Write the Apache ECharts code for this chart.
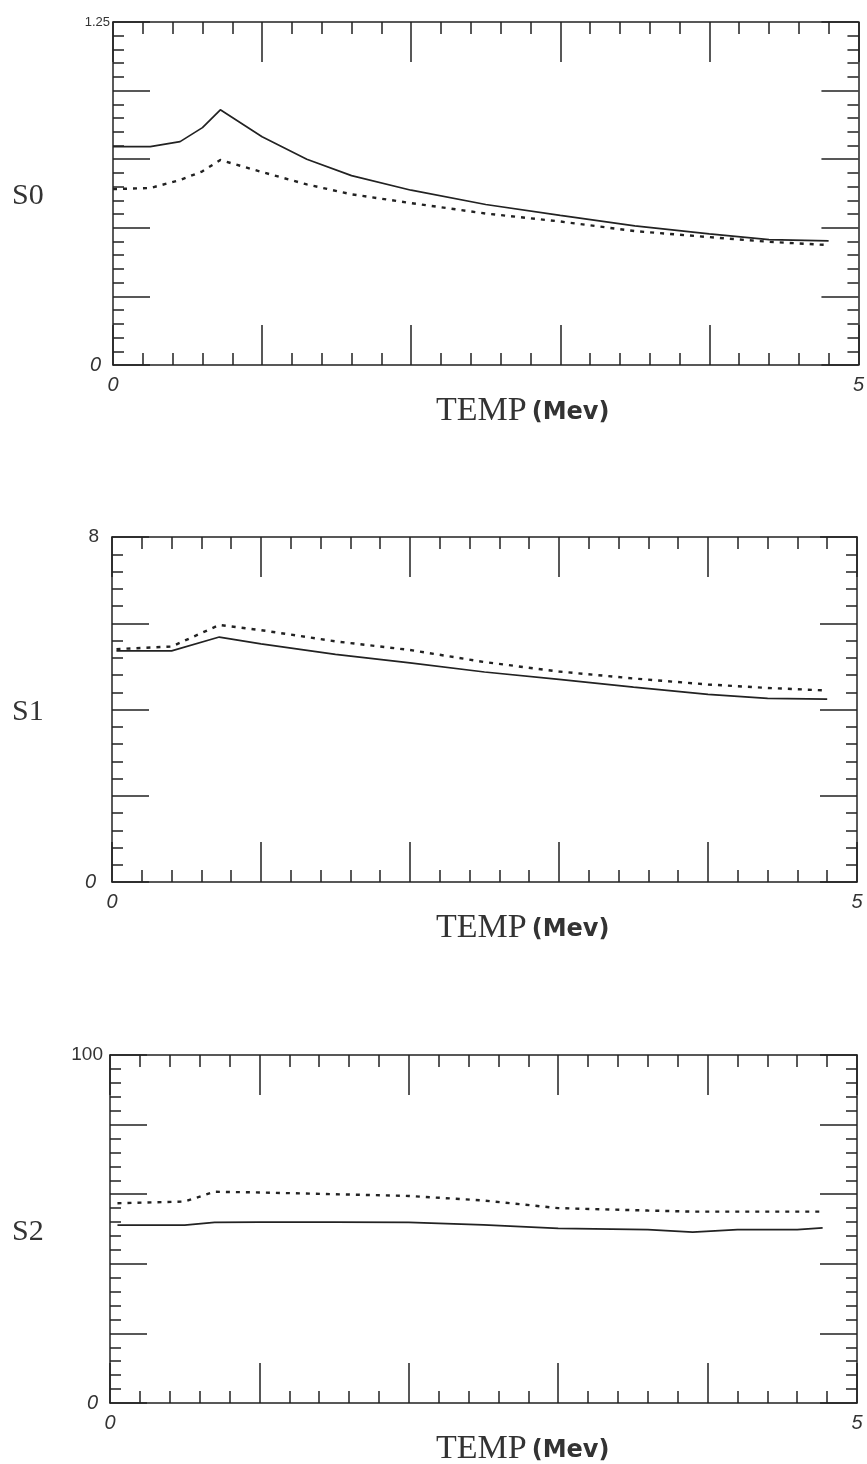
<!DOCTYPE html>
<html>
<head>
<meta charset="utf-8">
<script src="https://cdn.jsdelivr.net/npm/echarts@6/dist/echarts.min.js"></script>
<style>
  html, body { margin: 0; padding: 0; background: #fff; }
  #chart { width: 867px; height: 1464px; }
</style>
</head>
<body>
<div id="chart"></div>
<script>
// ---- data: temperature grid (MeV) and the two curves of each panel ----
const s0Temp   = [0, 0.25, 0.45, 0.6, 0.72, 1.0, 1.3, 1.6, 2.0, 2.5, 3.0, 3.5, 4.0, 4.4, 4.8];
const s0Solid  = [0.796, 0.796, 0.814, 0.865, 0.930, 0.832, 0.750, 0.690, 0.637, 0.585, 0.545, 0.507, 0.478, 0.457, 0.452];
const s0Dotted = [0.641, 0.645, 0.674, 0.706, 0.747, 0.703, 0.658, 0.622, 0.590, 0.552, 0.523, 0.488, 0.466, 0.449, 0.437];

const s1Temp   = [0.03, 0.4, 0.72, 1.0, 1.5, 2.0, 2.5, 3.0, 3.5, 4.0, 4.4, 4.8];
const s1Solid  = [5.36, 5.36, 5.68, 5.52, 5.28, 5.08, 4.87, 4.70, 4.52, 4.35, 4.26, 4.24];
const s1Dotted = [5.40, 5.46, 5.96, 5.84, 5.58, 5.38, 5.10, 4.88, 4.72, 4.58, 4.50, 4.44];

const s2Temp   = [0.05, 0.5, 0.7, 1.0, 1.5, 2.0, 2.5, 3.0, 3.6, 3.9, 4.2, 4.6, 4.77];
const s2Solid  = [51.1, 51.1, 51.9, 52.0, 52.0, 51.9, 51.2, 50.2, 49.8, 49.1, 49.8, 49.8, 50.3];
const s2Dotted = [57.4, 57.9, 60.7, 60.5, 60.0, 59.5, 58.2, 56.0, 55.3, 55.0, 55.0, 55.0, 55.0];

// axis ranges and tick labels
const xMin = 0, xMax = 5, xStep = 1;
const yMax = [1.25, 8, 100];
const yStep = [0.25, 2, 20];
const yTopLabel = ['1.25', '8', '100'];
const yNames = ['S0', 'S1', 'S2'];

const ink = '#222';
const grids = [
  { left: 113, top: 22,   width: 747, height: 343 },
  { left: 112, top: 537,  width: 745, height: 345 },
  { left: 110, top: 1055, width: 747, height: 348 }
];
// per-panel label placement
const labelMargin = [3, 6, 7];
const zeroPad = [9, 10, 5];
const topPad = [0, 7, 0];
const topSize = [13, 19, 19];

const tickStyle = { color: ink, width: 1.5 };
const xAxes = [], yAxes = [], series = [], graphics = [];

function pairs(xs, ys) { return xs.map((x, i) => [x, ys[i]]); }

grids.forEach((g, gi) => {
  // bottom (labelled) and top (mirror) temperature axes
  ['bottom', 'top'].forEach(pos => {
    xAxes.push({
      type: 'value', gridIndex: gi, position: pos,
      min: xMin, max: xMax, interval: xStep,
      axisLine: { show: true, onZero: false, lineStyle: { color: ink, width: 1.5 } },
      axisTick: { show: true, inside: true, length: 40, lineStyle: tickStyle },
      minorTick: { show: true, splitNumber: 5, length: 12, lineStyle: tickStyle },
      splitLine: { show: false },
      axisLabel: pos === 'bottom' ? {
        show: true, margin: 10, hideOverlap: false,
        formatter: v => (v === xMin || v === xMax) ? String(v) : '',
        fontFamily: 'Liberation Sans', fontStyle: 'italic', fontSize: 20, color: '#333'
      } : { show: false }
    });
  });
  // left (labelled) and right (mirror) value axes
  ['left', 'right'].forEach(pos => {
    yAxes.push({
      type: 'value', gridIndex: gi, position: pos,
      min: 0, max: yMax[gi], interval: yStep[gi],
      axisLine: { show: true, onZero: false, lineStyle: { color: ink, width: 1.5 } },
      axisTick: { show: true, inside: true, length: 37, lineStyle: tickStyle },
      minorTick: { show: true, splitNumber: 5, length: 11, lineStyle: tickStyle },
      splitLine: { show: false },
      axisLabel: pos === 'left' ? {
        show: true, margin: labelMargin[gi], hideOverlap: false,
        formatter: v => v === 0 ? '{z|0}' : (Math.abs(v - yMax[gi]) < 1e-9 ? '{t|' + yTopLabel[gi] + '}' : ''),
        rich: {
          z: { fontFamily: 'Liberation Sans', fontStyle: 'italic', fontSize: 20, color: '#333', padding: [0, zeroPad[gi], 0, 0] },
          t: { fontFamily: 'Liberation Sans', fontSize: topSize[gi], color: '#333', padding: [0, topPad[gi], 0, 0] }
        }
      } : { show: false }
    });
  });

  const xi = gi * 2, yi = gi * 2;
  const temps = [s0Temp, s1Temp, s2Temp][gi];
  const solid = [s0Solid, s1Solid, s2Solid][gi];
  const dotted = [s0Dotted, s1Dotted, s2Dotted][gi];
  series.push({
    type: 'line', xAxisIndex: xi, yAxisIndex: yi, data: pairs(temps, solid),
    showSymbol: false, silent: true,
    lineStyle: { color: ink, width: 1.7 }
  });
  series.push({
    type: 'line', xAxisIndex: xi, yAxisIndex: yi, data: pairs(temps, dotted),
    showSymbol: false, silent: true,
    lineStyle: { color: ink, width: 2.4, type: [4, 6] }
  });

  // axis titles
  graphics.push({
    type: 'text', left: 12, top: g.top + g.height / 2 - 12,
    style: { text: yNames[gi], font: '30px "Liberation Serif"', fill: '#333' }
  });
  graphics.push({
    type: 'text', left: 436, top: g.top + g.height + 29,
    style: {
      text: '{a|TEMP}{b|(Mev)}',
      rich: {
        a: { font: '34px "Liberation Serif"', fill: '#333', verticalAlign: 'bottom' },
        b: { font: 'bold 24px "DejaVu Sans"', fill: '#333', verticalAlign: 'bottom', padding: [0, 0, 3, 5] }
      }
    }
  });
});

const chart = echarts.init(document.getElementById('chart'), null, { renderer: 'canvas' });
chart.setOption({
  backgroundColor: '#fff',
  animation: false,
  grid: grids,
  xAxis: xAxes,
  yAxis: yAxes,
  series: series,
  graphic: graphics
});
</script>
</body>
</html>
